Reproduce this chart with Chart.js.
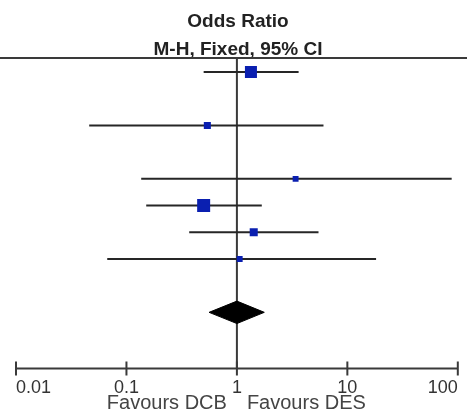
<!DOCTYPE html>
<html>
<head>
<meta charset="utf-8">
<script src="https://cdn.jsdelivr.net/npm/chart.js@4.4.1/dist/chart.umd.min.js"></script>
<style>
  html, body { margin: 0; padding: 0; background: #ffffff; }
  #wrap { width: 467px; height: 418px; position: relative; }
</style>
</head>
<body>
<div id="wrap"><canvas id="c"></canvas></div>
<script>
// ---- data ----
const studyNames = ['Study 1', 'Study 2', 'Study 3', 'Study 4', 'Study 5', 'Study 6'];
const rowOrder   = ['Study 1', '', 'Study 2', '', 'Study 3', 'Study 4', 'Study 5', 'Study 6', '', 'Total (95% CI)'];
const oddsRatio  = [1.34, 0.54, 3.40, 0.50, 1.42, 1.06];
const ciLower    = [0.50, 0.046, 0.136, 0.151, 0.37, 0.067];
const ciUpper    = [3.62, 6.08, 88.0, 1.68, 5.48, 18.2];
const weights    = [29, 10, 7, 34, 13, 7];
const pooledName = 'Total (95% CI)';
const pooled     = { or: 1.00, lower: 0.56, upper: 1.77 };
const tickValues = [0.01, 0.1, 1, 10, 100];
const tickLabels = ['0.01', '0.1', '1', '10', '100'];
const titleText  = 'Odds Ratio';
const subtitleText = 'M-H, Fixed, 95% CI';
const favoursLeft  = 'Favours DCB';
const favoursRight = 'Favours DES';

// ---- build datasets ----
const FONT = '"Liberation Sans", Arial, sans-serif';
const LINE = '#262626';
const BLUE = '#0a1fb0';
const rowOf = name => rowOrder.indexOf(name);

const datasets = [];
studyNames.forEach((name, i) => {
  datasets.push({
    type: 'scatter',
    showLine: true,
    data: [{ x: ciLower[i], y: rowOf(name) }, { x: ciUpper[i], y: rowOf(name) }],
    borderColor: LINE,
    borderWidth: 2,
    pointRadius: 0,
    order: 3
  });
});
datasets.push({
  type: 'scatter',
  data: studyNames.map((name, i) => ({ x: oddsRatio[i], y: rowOf(name) })),
  pointStyle: 'rect',
  pointRadius: weights.map(w => 2.23 * Math.sqrt(w) / Math.SQRT2),
  backgroundColor: BLUE,
  borderColor: BLUE,
  borderWidth: 0,
  order: 1
});
const pr = rowOf(pooledName), dh = 0.42;
datasets.push({
  type: 'scatter',
  showLine: true,
  data: [
    { x: pooled.lower, y: pr }, { x: pooled.or, y: pr - dh },
    { x: pooled.upper, y: pr }, { x: pooled.or, y: pr + dh },
    { x: pooled.lower, y: pr }
  ],
  borderColor: '#000',
  backgroundColor: '#000',
  borderWidth: 1,
  pointRadius: 0,
  fill: 'shape',
  tension: 0,
  order: 0
});

const forestFrame = {
  id: 'forestFrame',
  beforeDatasetsDraw(chart) {
    const { ctx, chartArea, scales: { x } } = chart;
    ctx.save();
    ctx.strokeStyle = '#3a3a3a';
    ctx.lineWidth = 2;
    ctx.beginPath();
    ctx.moveTo(0, chartArea.top);
    ctx.lineTo(chart.width, chartArea.top);
    const x1 = x.getPixelForValue(1);
    ctx.moveTo(x1, chartArea.top);
    ctx.lineTo(x1, chartArea.bottom);
    ctx.stroke();
    // axis
    ctx.beginPath();
    ctx.moveTo(x.getPixelForValue(tickValues[0]), chartArea.bottom);
    ctx.lineTo(x.getPixelForValue(tickValues[tickValues.length - 1]), chartArea.bottom);
    tickValues.forEach(v => {
      const px = x.getPixelForValue(v);
      ctx.moveTo(px, chartArea.bottom - 7);
      ctx.lineTo(px, chartArea.bottom + 7);
    });
    ctx.stroke();
    // favours labels
    ctx.font = '20px ' + FONT;
    ctx.fillStyle = '#444';
    ctx.textBaseline = 'alphabetic';
    ctx.textAlign = 'right';
    ctx.fillText(favoursLeft, x1 - 10, chartArea.bottom + 41);
    ctx.textAlign = 'left';
    ctx.fillText(favoursRight, x1 + 10, chartArea.bottom + 41);
    ctx.restore();
  }
};

new Chart(document.getElementById('c'), {
  type: 'scatter',
  data: { datasets },
  plugins: [forestFrame],
  options: {
    responsive: true,
    maintainAspectRatio: false,
    animation: false,
    events: [],
    layout: { padding: { left: 16, right: 7, top: 0, bottom: 10 } },
    plugins: {
      legend: { display: false },
      tooltip: { enabled: false },
      title: {
        display: true, text: titleText, color: '#222',
        font: { family: FONT, size: 19, weight: 'bold' },
        padding: { top: 10, bottom: 2 }
      },
      subtitle: {
        display: true, text: subtitleText, color: '#222',
        font: { family: FONT, size: 19, weight: 'bold', lineHeight: 0.9 },
        padding: { top: 6, bottom: 0 }
      }
    },
    scales: {
      x: {
        type: 'logarithmic',
        min: tickValues[0],
        max: tickValues[tickValues.length - 1],
        afterBuildTicks: axis => { axis.ticks = tickValues.map(v => ({ value: v })); },
        grid: { display: false, drawTicks: false },
        border: { display: false },
        ticks: {
          align: 'inner',
          autoSkip: false,
          maxRotation: 0,
          padding: 9,
          color: '#333',
          font: { family: FONT, size: 18 },
          callback: (v) => tickLabels[tickValues.indexOf(v)] ?? ''
        }
      },
      y: {
        type: 'linear',
        display: false,
        reverse: true,
        min: -0.53,
        max: 11.1
      }
    }
  }
});
</script>
</body>
</html>
